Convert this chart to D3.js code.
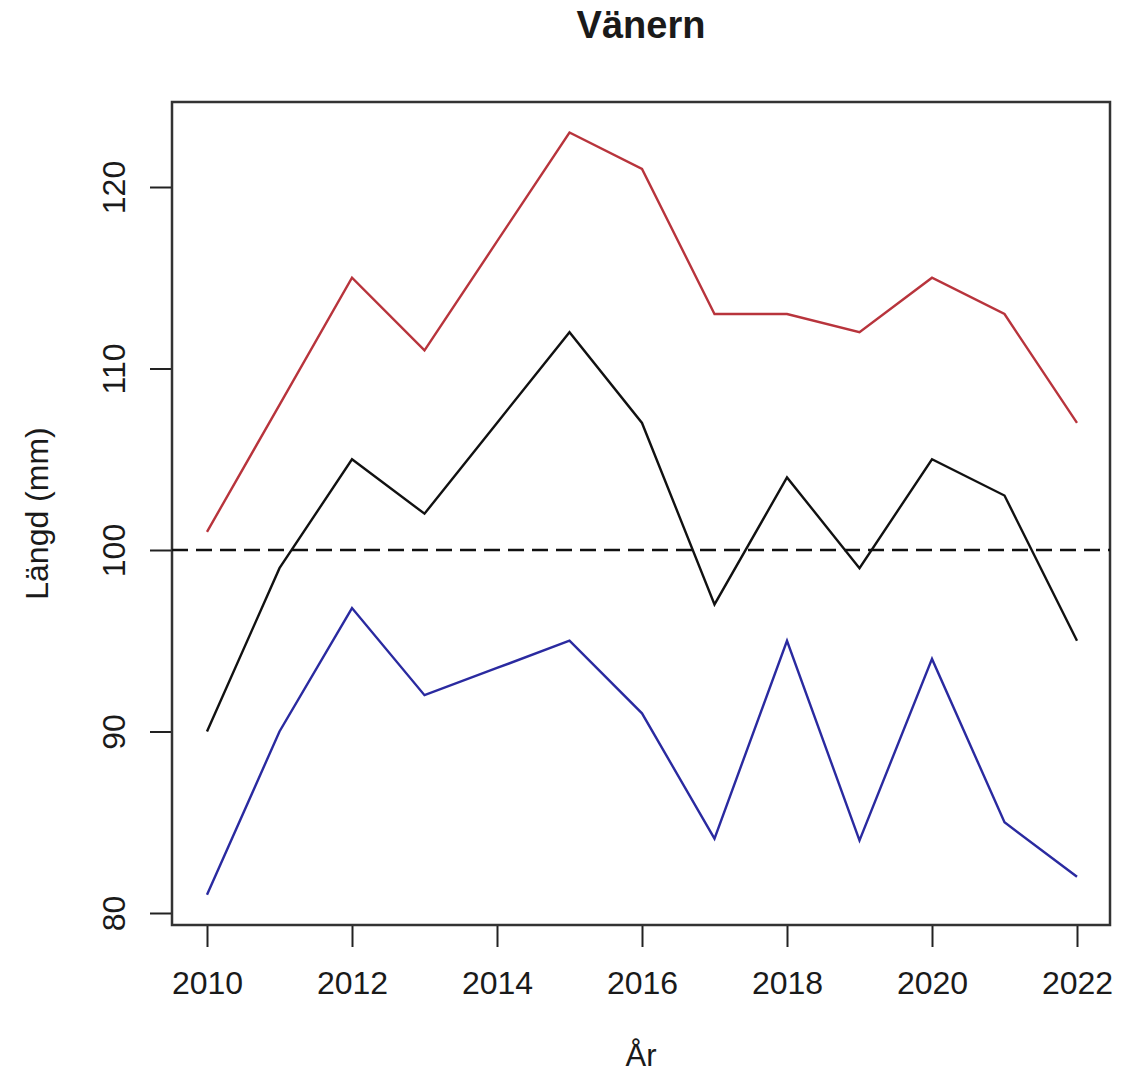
<!DOCTYPE html>
<html>
<head>
<meta charset="utf-8">
<script src="https://cdn.jsdelivr.net/npm/d3@7"></script>
<style>
  body { margin: 0; background: #fff; }
  text { font-family: Arial, "Liberation Sans", sans-serif; fill: #1a1a1a; }
</style>
</head>
<body>
<div id="chart"></div>
<script>
// Data
var years = [2010, 2011, 2012, 2013, 2014, 2015, 2016, 2017, 2018, 2019, 2020, 2021, 2022];
var upper = [101, 108, 115, 111, 117, 123, 121, 113, 113, 112, 115, 113, 107];
var mean = [90, 99, 105, 102, 107, 112, 107, 97, 104, 99, 105, 103, 95];
var lower = [81, 90, 96.8, 92, 93.5, 95, 91, 84.1, 95, 84, 94, 85, 82];
var xTicks = [2010, 2012, 2014, 2016, 2018, 2020, 2022];
var yTicks = [80, 90, 100, 110, 120];
var refLine = 100;

var svgWidth = 1138;
var svgHeight = 1076;

// plot box
var box = { left: 172, top: 102, right: 1110, bottom: 925 };

var svg = d3.select("#chart")
    .append("svg")
    .attr("width", svgWidth)
    .attr("height", svgHeight);

var x = d3.scaleLinear()
    .domain([2010, 2022])
    .range([207, 1077]);

var y = d3.scaleLinear()
    .domain([80, 120])
    .range([913, 187]);

// Axes (R style: ticks outside, labels away from box)
var bottomAxis = d3.axisBottom(x)
    .tickValues(xTicks)
    .tickFormat(d3.format("d"))
    .tickSize(22)
    .tickPadding(24);

var leftAxis = d3.axisLeft(y)
    .tickValues(yTicks)
    .tickSize(22)
    .tickPadding(25);

var xAxis = svg.append("g")
    .attr("transform", `translate(0, ${box.bottom})`)
    .call(bottomAxis);
xAxis.select(".domain").remove();
xAxis.selectAll("line").attr("stroke", "#222").attr("stroke-width", 2);
xAxis.selectAll("text")
    .attr("font-size", 32)
    .attr("fill", "#1a1a1a");

var yAxis = svg.append("g")
    .attr("transform", `translate(${box.left}, 0)`)
    .call(leftAxis);
yAxis.select(".domain").remove();
yAxis.selectAll("line").attr("stroke", "#222").attr("stroke-width", 2);
yAxis.selectAll("text")
    .attr("font-size", 32)
    .attr("fill", "#1a1a1a")
    .attr("text-anchor", "middle")
    .attr("dy", 0)
    .attr("x", 0)
    .attr("transform", "translate(-47, 0) rotate(-90)");

// Box around the plot region
svg.append("rect")
    .attr("x", box.left)
    .attr("y", box.top)
    .attr("width", box.right - box.left)
    .attr("height", box.bottom - box.top)
    .attr("fill", "none")
    .attr("stroke", "#333")
    .attr("stroke-width", 2.5);

// Reference line
svg.append("line")
    .attr("x1", box.left)
    .attr("x2", box.right)
    .attr("y1", y(refLine))
    .attr("y2", y(refLine))
    .attr("stroke", "#111")
    .attr("stroke-width", 2.5)
    .attr("stroke-dasharray", "16,8");

var line = d3.line()
    .x(function(d, i) { return x(years[i]); })
    .y(function(d) { return y(d); });

var series = [
    { values: upper, color: "#b8343c" },
    { values: mean, color: "#111111" },
    { values: lower, color: "#2a2aa0" }
];

svg.selectAll(".series")
    .data(series)
    .enter()
    .append("path")
    .attr("class", "series")
    .attr("d", d => line(d.values))
    .attr("fill", "none")
    .attr("stroke", d => d.color)
    .attr("stroke-width", 2.4)
    .attr("stroke-linejoin", "miter");

// Title and labels
svg.append("text")
    .attr("x", (box.left + box.right) / 2)
    .attr("y", 38)
    .attr("text-anchor", "middle")
    .attr("font-size", 38)
    .attr("font-weight", "bold")
    .text("Vänern");

svg.append("text")
    .attr("x", (box.left + box.right) / 2)
    .attr("y", 1066)
    .attr("text-anchor", "middle")
    .attr("font-size", 31)
    .text("År");

svg.append("text")
    .attr("transform", `translate(48, ${(box.top + box.bottom) / 2}) rotate(-90)`)
    .attr("text-anchor", "middle")
    .attr("font-size", 32)
    .text("Längd (mm)");
</script>
</body>
</html>
